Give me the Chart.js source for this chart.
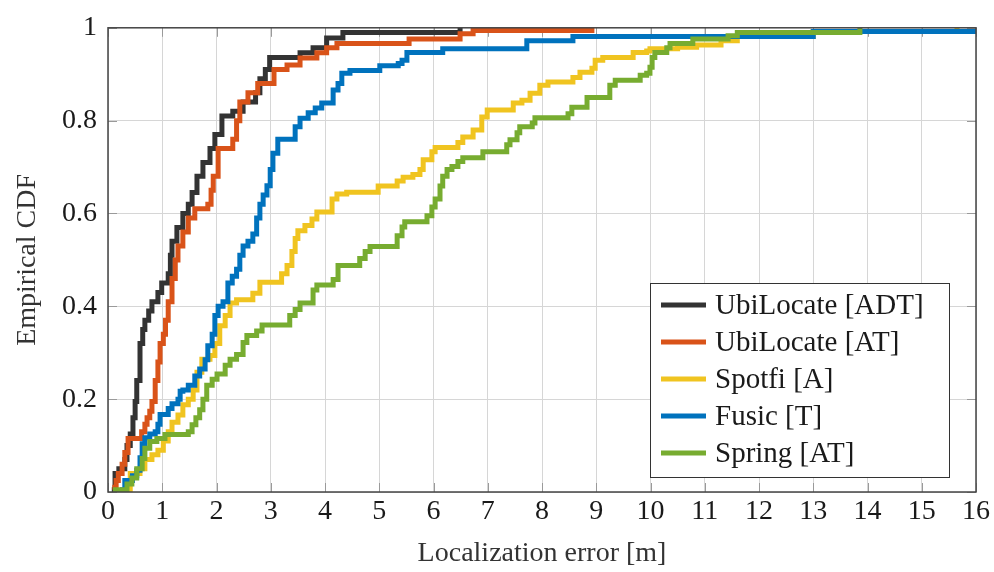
<!DOCTYPE html>
<html>
<head>
<meta charset="utf-8">
<script src="https://cdn.jsdelivr.net/npm/chart.js@4.4.1/dist/chart.umd.min.js"></script>
<style>
  html, body { margin: 0; padding: 0; background: #fff; }
  #wrap { width: 994px; height: 572px; }
</style>
</head>
<body>
<div id="wrap"><canvas id="cdfChart" width="994" height="572"></canvas></div>
<script>
// localization error [m] at each step of the empirical CDF, and the level after the step
const ubiAdtErr = [0.07, 0.13, 0.2, 0.31, 0.35, 0.41, 0.46, 0.5, 0.53, 0.59, 0.64, 0.68, 0.75, 0.81, 0.92, 0.99, 1.11, 1.15, 1.18, 1.27, 1.38, 1.48, 1.55, 1.64, 1.75, 1.88, 1.97, 2.1, 2.3, 2.49, 2.72, 2.8, 2.9, 2.98, 3.54, 3.78, 4.03, 4.33, 6.49];
const ubiAdtCdf = [0.005, 0.04, 0.05, 0.07, 0.1, 0.125, 0.16, 0.195, 0.24, 0.32, 0.35, 0.37, 0.39, 0.41, 0.43, 0.45, 0.47, 0.51, 0.54, 0.57, 0.6, 0.62, 0.645, 0.68, 0.71, 0.74, 0.77, 0.81, 0.82, 0.84, 0.86, 0.89, 0.91, 0.936, 0.946, 0.957, 0.978, 0.99, 1.0];

const ubiAtErr = [0.08, 0.15, 0.19, 0.26, 0.31, 0.37, 0.62, 0.68, 0.72, 0.77, 0.81, 0.87, 0.92, 0.96, 1.02, 1.06, 1.11, 1.18, 1.24, 1.29, 1.38, 1.48, 1.6, 1.84, 1.9, 1.94, 2.03, 2.3, 2.37, 2.43, 2.58, 2.76, 3.06, 3.3, 3.54, 3.85, 4.03, 4.22, 5.55, 6.49, 6.73, 8.92];
const ubiAtCdf = [0.01, 0.025, 0.04, 0.06, 0.085, 0.115, 0.13, 0.146, 0.16, 0.174, 0.195, 0.24, 0.28, 0.32, 0.34, 0.37, 0.41, 0.46, 0.5, 0.53, 0.56, 0.59, 0.61, 0.62, 0.65, 0.68, 0.74, 0.76, 0.8, 0.84, 0.86, 0.88, 0.91, 0.92, 0.935, 0.946, 0.957, 0.966, 0.976, 0.987, 0.994, 1.0];

const spotfiErr = [0.28, 0.41, 0.59, 0.68, 0.81, 0.92, 1.02, 1.11, 1.18, 1.29, 1.38, 1.48, 1.57, 1.64, 1.73, 1.88, 1.97, 2.06, 2.16, 2.25, 2.37, 2.67, 2.8, 3.2, 3.3, 3.39, 3.45, 3.5, 3.63, 3.76, 3.85, 4.13, 4.22, 4.4, 4.98, 5.33, 5.44, 5.62, 5.75, 5.81, 5.97, 6.03, 6.45, 6.54, 6.73, 6.89, 6.99, 7.47, 7.63, 7.78, 7.96, 8.11, 8.57, 8.7, 8.92, 8.98, 9.12, 9.68, 9.93, 9.99, 10.5, 10.85, 11.3, 11.6, 13.0, 15.65];
const spotfiCdf = [0.005, 0.04, 0.05, 0.07, 0.08, 0.09, 0.11, 0.13, 0.15, 0.166, 0.188, 0.2, 0.22, 0.258, 0.286, 0.294, 0.32, 0.358, 0.38, 0.407, 0.414, 0.428, 0.452, 0.47, 0.488, 0.518, 0.546, 0.563, 0.574, 0.588, 0.603, 0.631, 0.642, 0.646, 0.659, 0.67, 0.678, 0.684, 0.695, 0.716, 0.733, 0.742, 0.753, 0.765, 0.78, 0.808, 0.823, 0.838, 0.844, 0.859, 0.876, 0.883, 0.893, 0.904, 0.913, 0.93, 0.936, 0.947, 0.95, 0.955, 0.958, 0.963, 0.972, 0.981, 0.992, 1.0];

const fusicErr = [0.22, 0.31, 0.45, 0.53, 0.59, 0.63, 0.68, 0.77, 0.87, 0.92, 0.96, 1.11, 1.18, 1.29, 1.33, 1.38, 1.48, 1.6, 1.69, 1.79, 1.84, 1.92, 1.97, 2.03, 2.12, 2.21, 2.29, 2.37, 2.43, 2.49, 2.58, 2.67, 2.74, 2.8, 2.86, 2.93, 2.99, 3.04, 3.13, 3.45, 3.54, 3.69, 3.82, 3.94, 4.15, 4.24, 4.31, 4.46, 5.01, 5.35, 5.42, 5.51, 6.17, 7.72, 8.57, 13.0, 16.0];
const fusicCdf = [0.005, 0.025, 0.035, 0.047, 0.074, 0.104, 0.117, 0.125, 0.13, 0.146, 0.167, 0.18, 0.19, 0.2, 0.217, 0.22, 0.23, 0.25, 0.265, 0.285, 0.315, 0.34, 0.38, 0.4, 0.41, 0.45, 0.465, 0.48, 0.51, 0.53, 0.54, 0.556, 0.59, 0.62, 0.64, 0.66, 0.695, 0.73, 0.76, 0.787, 0.805, 0.817, 0.827, 0.838, 0.866, 0.88, 0.902, 0.908, 0.918, 0.923, 0.93, 0.947, 0.955, 0.972, 0.981, 0.992, 0.992];

const springErr = [0.09, 0.35, 0.44, 0.53, 0.63, 0.68, 0.77, 0.9, 1.05, 1.48, 1.55, 1.62, 1.69, 1.75, 1.82, 1.92, 2.01, 2.16, 2.25, 2.37, 2.49, 2.56, 2.74, 2.84, 3.35, 3.45, 3.54, 3.78, 3.85, 4.15, 4.24, 4.64, 4.74, 4.83, 5.33, 5.42, 5.47, 5.88, 5.97, 6.03, 6.12, 6.17, 6.25, 6.34, 6.45, 6.54, 6.91, 7.35, 7.41, 7.54, 7.59, 7.82, 7.87, 8.48, 8.55, 8.83, 9.25, 9.35, 9.81, 9.93, 9.99, 10.03, 10.08, 10.3, 10.36, 10.78, 11.43, 11.6, 13.86];
const springCdf = [0.005, 0.017, 0.03, 0.05, 0.072, 0.094, 0.109, 0.115, 0.124, 0.13, 0.145, 0.16, 0.177, 0.2, 0.23, 0.243, 0.254, 0.273, 0.286, 0.296, 0.322, 0.337, 0.347, 0.36, 0.38, 0.393, 0.407, 0.435, 0.446, 0.458, 0.488, 0.503, 0.518, 0.529, 0.552, 0.571, 0.582, 0.595, 0.614, 0.631, 0.659, 0.68, 0.695, 0.701, 0.712, 0.72, 0.733, 0.748, 0.759, 0.774, 0.787, 0.795, 0.806, 0.815, 0.829, 0.85, 0.876, 0.887, 0.898, 0.902, 0.915, 0.936, 0.947, 0.957, 0.966, 0.976, 0.983, 0.99, 1.0];

const seriesNames = ['UbiLocate [ADT]', 'UbiLocate [AT]', 'Spotfi [A]', 'Fusic [T]', 'Spring [AT]'];
const seriesColors = ['#333333', '#D95319', '#F0C420', '#0072BD', '#77AC30'];
const seriesErr = [ubiAdtErr, ubiAtErr, spotfiErr, fusicErr, springErr];
const seriesCdf = [ubiAdtCdf, ubiAtCdf, spotfiCdf, fusicCdf, springCdf];

const xTickValues = [0, 1, 2, 3, 4, 5, 6, 7, 8, 9, 10, 11, 12, 13, 14, 15, 16];
const yTickValues = [0, 0.2, 0.4, 0.6, 0.8, 1];
const yTickLabels = ['0', '0.2', '0.4', '0.6', '0.8', '1'];

const serif = "'Liberation Serif', 'Times New Roman', serif";
const textColor = '#1a1a1a';

const datasets = seriesNames.map((name, i) => ({
  label: name,
  data: seriesErr[i].map((x, k) => ({ x: x, y: seriesCdf[i][k] })),
  borderColor: seriesColors[i],
  backgroundColor: seriesColors[i],
  borderWidth: 5,
  stepped: 'before',
  pointRadius: 0,
  fill: false,
  // later series are painted over earlier ones
  order: seriesNames.length - i
}));

// inner tick marks and the closed axis frame
const axisBox = {
  id: 'axisBox',
  beforeDatasetsDraw(chart) {
    const { ctx, chartArea: a, scales } = chart;
    ctx.save();
    ctx.strokeStyle = '#9a9a9a';
    ctx.lineWidth = 1;
    ctx.beginPath();
    scales.x.ticks.forEach(t => {
      const px = Math.round(scales.x.getPixelForValue(t.value)) + 0.5;
      ctx.moveTo(px, a.bottom); ctx.lineTo(px, a.bottom - 9);
      ctx.moveTo(px, a.top); ctx.lineTo(px, a.top + 9);
    });
    scales.y.ticks.forEach(t => {
      const py = Math.round(scales.y.getPixelForValue(t.value)) + 0.5;
      ctx.moveTo(a.left, py); ctx.lineTo(a.left + 9, py);
      ctx.moveTo(a.right, py); ctx.lineTo(a.right - 9, py);
    });
    ctx.stroke();
    ctx.restore();
  },
  afterDatasetsDraw(chart) {
    const { ctx, chartArea: a } = chart;
    ctx.save();
    ctx.strokeStyle = '#444444';
    ctx.lineWidth = 1.5;
    ctx.strokeRect(a.left, a.top, a.right - a.left, a.bottom - a.top);
    ctx.restore();
  }
};

// legend box in the lower right corner of the plot
const boxLegend = {
  id: 'boxLegend',
  afterDatasetsDraw(chart) {
    const { ctx, chartArea: a } = chart;
    const w = 299, h = 194;
    const left = a.right - 27 - w;
    const top = a.bottom - 15 - h;
    ctx.save();
    ctx.fillStyle = '#ffffff';
    ctx.fillRect(left, top, w, h);
    ctx.strokeStyle = '#333333';
    ctx.lineWidth = 1;
    ctx.strokeRect(left + 0.5, top + 0.5, w, h);
    ctx.font = '29px ' + serif;
    ctx.textBaseline = 'middle';
    chart.data.datasets.forEach((ds, i) => {
      const y = top + 22 + i * 37;
      ctx.strokeStyle = ds.borderColor;
      ctx.lineWidth = 5;
      ctx.beginPath();
      ctx.moveTo(left + 11, y);
      ctx.lineTo(left + 56, y);
      ctx.stroke();
      ctx.fillStyle = textColor;
      ctx.fillText(ds.label, left + 65, y + 1);
    });
    ctx.restore();
  }
};

new Chart(document.getElementById('cdfChart'), {
  type: 'line',
  data: { datasets: datasets },
  options: {
    responsive: false,
    animation: false,
    layout: { padding: { top: 21, right: 18, bottom: 0, left: 0 } },
    plugins: {
      legend: { display: false },
      tooltip: { enabled: false }
    },
    scales: {
      x: {
        type: 'linear',
        min: 0,
        max: 16,
        afterBuildTicks: s => { s.ticks = xTickValues.map(v => ({ value: v })); },
        afterFit: s => { s.height = 80; },
        grid: { color: '#d6d6d6', lineWidth: 1, drawTicks: false },
        border: { display: false },
        ticks: { font: { family: serif, size: 28 }, color: textColor, padding: 3, maxRotation: 0 },
        title: { display: true, text: 'Localization error [m]', font: { family: serif, size: 28 }, color: '#333333', padding: { top: 0, bottom: 2 } }
      },
      y: {
        min: 0,
        max: 1,
        afterBuildTicks: s => { s.ticks = yTickValues.map(v => ({ value: v })); },
        afterFit: s => { s.width = 108; },
        grid: { color: '#d6d6d6', lineWidth: 1, drawTicks: false },
        border: { display: false },
        ticks: {
          font: { family: serif, size: 28 },
          color: textColor,
          padding: 11,
          callback: (v, idx) => yTickLabels[idx]
        },
        title: { display: true, text: 'Empirical CDF', font: { family: serif, size: 28 }, color: '#333333', padding: { top: 11, bottom: 0 } }
      }
    }
  },
  plugins: [axisBox, boxLegend]
});
</script>
</body>
</html>
